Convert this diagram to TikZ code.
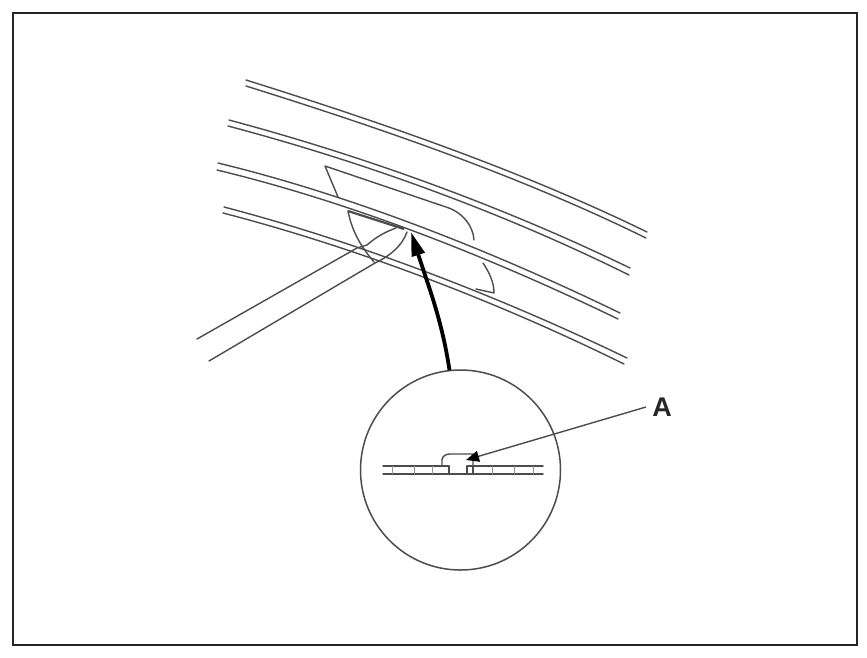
\documentclass[tikz,border=0pt]{standalone}
\usepackage{fontspec}
\setmainfont{Liberation Sans}
\usetikzlibrary{arrows.meta}
\definecolor{ink}{gray}{0.3}
\tikzset{
  thinline/.style={draw=ink,line width=1.4pt,line cap=round,line join=round},
  tickline/.style={draw=ink!60,line width=0.9pt},
  frameline/.style={draw=black!85,line width=2.2pt},
  bigarrow/.style={draw=black,line width=3.8pt,-{Triangle[length=24pt,width=13pt]}},
  leaderline/.style={draw=ink,line width=1.4pt,-{Triangle[length=13pt,width=11pt,color=black]}},
  lenscircle/.style={circle,draw=ink,line width=1.5pt,minimum size=200pt,inner sep=0pt},
  calloutlabel/.style={font=\bfseries\fontsize{27}{27}\selectfont,text=black!85,inner sep=0pt}
}
\begin{document}
\begin{tikzpicture}[x=1pt,y=-1pt]
\useasboundingbox (0,0) rectangle (867,657);
\fill[white] (0,0) rectangle (867,657);
\draw[frameline] (13,13) rectangle (857,645);
% rails
\draw[thinline] (246,80) .. controls (380,122) and (520,170) .. (647,232);
\draw[thinline] (246,86) .. controls (380,128) and (520,176) .. (646,238);
\draw[thinline] (229,120) .. controls (360,155) and (500,205) .. (630,268);
\draw[thinline] (228,126) .. controls (360,161) and (500,211) .. (629,275);
\draw[thinline] (218,163) .. controls (350,195) and (490,250) .. (620,313);
\draw[thinline] (217,170) .. controls (350,202) and (490,257) .. (618,319);
\draw[thinline] (224,207) .. controls (350,240) and (490,292) .. (627,358);
\draw[thinline] (223,213) .. controls (350,246) and (490,298) .. (624,364);
% clip
\draw[thinline] (338,197) -- (325,166) -- (446,207) .. controls (462,212) and (473,225) .. (474,240);
\draw[thinline] (348,211) .. controls (352,232) and (362,248) .. (374,262);
\draw[thinline] (483,263) .. controls (489,272) and (494,282) .. (494,293) -- (476,289);
\draw[draw=ink,line width=2.2pt] (348,211) -- (404,229);
\draw[thinline] (357,248) -- (197,339);
\draw[thinline] (375,263) -- (209,361);
\draw[thinline] (357,248) -- (367,245) .. controls (376,237) and (385,232) .. (396,228);
\draw[thinline] (375,263) .. controls (390,256) and (402,246) .. (407,232);
% lens
\node[lenscircle] (lens) at (460.5,470) {};
\coordinate (arrowtip) at (411,232);
\draw[bigarrow] (lens.north) ++(-11,1) coordinate (arrowstart) .. controls (442,320) and (428,285) .. (arrowtip);
% section
\draw[thinline] (383,466) -- (449,466);
\draw[thinline] (467,466) -- (543,466);
\draw[thinline] (383,474) -- (543,474);
\foreach \tx in {392,414,432,492,514,533}
  \draw[tickline] (\tx,466) -- (\tx,474);
\foreach \tx in {449,467,473}
  \draw[thinline] (\tx,466) -- (\tx,474);
\draw[thinline] (442,466) -- (442,460) .. controls (442,456) and (446,454) .. (450,454) -- (473,454) -- (473,466);
% callout
\node[calloutlabel] (calloutA) at (662,407) {A};
\coordinate (leadertip) at (466,460);
\draw[leaderline] (646,407) -- (leadertip);
\end{tikzpicture}
\end{document}
